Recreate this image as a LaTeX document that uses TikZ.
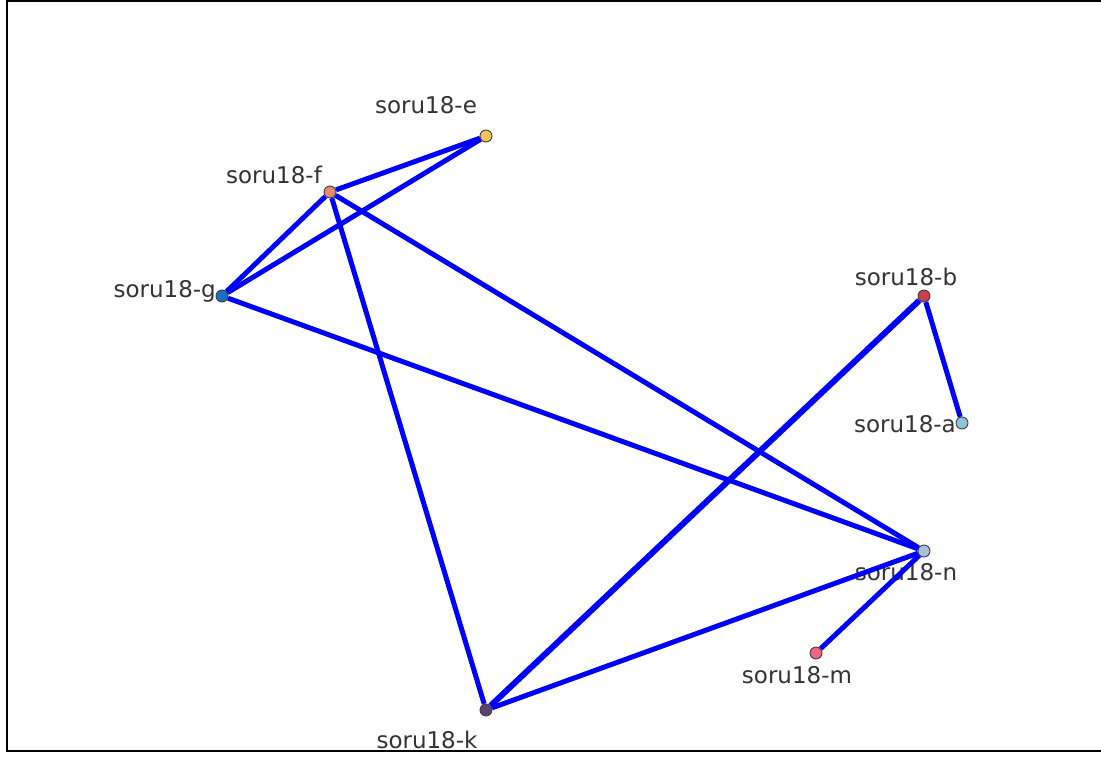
\documentclass[tikz,border=0pt]{standalone}
\usepackage{fontspec}
\setmainfont{DejaVu Sans}
\definecolor{ce}{HTML}{F5C45E}
\definecolor{cf}{HTML}{E8886A}
\definecolor{cg}{HTML}{1A6FC4}
\definecolor{cb}{HTML}{C8424A}
\definecolor{ca}{HTML}{8CC4DA}
\definecolor{cn}{HTML}{A8C0DA}
\definecolor{cm}{HTML}{F06484}
\definecolor{ck}{HTML}{5A4272}
\begin{document}
\begin{tikzpicture}
    [x=1pt, y=-1pt,
     vertex/.style={circle, draw=black!75, line width=0.9pt,
      inner sep=0pt, minimum size=12pt},
     lbl/.style={font=\fontsize{23}{23}\selectfont, text=black!80,
      inner sep=0pt, anchor=base},
     link/.style={blue, line width=5pt}]
    \useasboundingbox (0,0) rectangle (1101,756);
    \draw[line width=2pt] (1110,1) -- (7,1) -- (7,751) -- (1110,751);

    % vertices
    \node[vertex, fill=ce] (e) at (486,136) {};
    \node[vertex, fill=cf] (f) at (330,192) {};
    \node[vertex, fill=cg] (g) at (222,296) {};
    \node[vertex, fill=cb] (b) at (924,296) {};
    \node[vertex, fill=ca] (a) at (962,423) {};
    \node[vertex, fill=cn] (n) at (924,551) {};
    \node[vertex, fill=cm] (m) at (816,653) {};
    \node[vertex, fill=ck] (k) at (486,710) {};

    % labels
    \node[lbl] (le) at (426,113) {soru18-e};
    \node[lbl] (lf) at (274,183) {soru18-f};
    \node[lbl, anchor=base east] (lg) at (216,297) {soru18-g};
    \node[lbl] (lb) at (906,285) {soru18-b};
    \node[lbl, anchor=base east] (la) at (956,432) {soru18-a};
    \node[lbl] (ln) at (906,580) {soru18-n};
    \node[lbl] (lm) at (797,683) {soru18-m};
    \node[lbl] (lk) at (427,748) {soru18-k};

    % links
    \foreach \s/\t in {e/f, e/g, f/g, f/k, f/n, g/n, b/a, k/n, n/m}
    {
      \draw[link] (\s) -- (\t);
    }
    \draw[link, line width=6pt] (b) -- (k);
  \end{tikzpicture}
\end{document}
